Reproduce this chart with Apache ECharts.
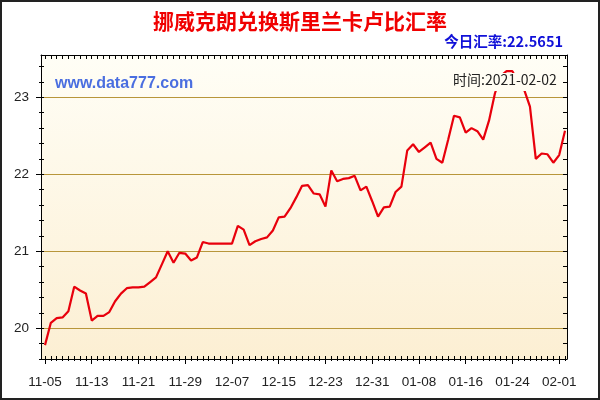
<!DOCTYPE html>
<html><head><meta charset="utf-8">
<script src="https://cdn.jsdelivr.net/npm/echarts@6/dist/echarts.min.js"></script>
<style>html,body{margin:0;padding:0;background:#fff}#c{width:600px;height:400px}</style>
</head><body><div id="c"></div>
<script>
const titleText = '挪威克朗兑换斯里兰卡卢比汇率';
const todayText = '今日汇率:22.5651';
const siteText = 'www.data777.com';
const timeText = '时间:2021-02-02';
const startYear = 2020, startMonth = 11, startDay = 5;

const rates = [
  19.78, 20.07, 20.13, 20.14, 20.22, 20.54, 20.49, 20.45, 20.10, 20.16,
  20.16, 20.21, 20.35, 20.45, 20.52, 20.53, 20.53, 20.54, 20.60, 20.66,
  20.83, 21.00, 20.85, 20.98, 20.97, 20.88, 20.92, 21.12, 21.10, 21.10,
  21.10, 21.10, 21.10, 21.33, 21.28, 21.08, 21.13, 21.16, 21.18, 21.27,
  21.44, 21.45, 21.56, 21.70, 21.85, 21.86, 21.75, 21.74, 21.58, 22.05,
  21.91, 21.94, 21.95, 21.98, 21.79, 21.84, 21.65, 21.45, 21.57, 21.58,
  21.77, 21.84, 22.31, 22.39, 22.29, 22.35, 22.41, 22.20, 22.15, 22.45,
  22.76, 22.74, 22.54, 22.60, 22.56, 22.45, 22.70, 23.05, 23.28, 23.34,
  23.34, 23.20, 23.10, 22.88, 22.20, 22.27, 22.26, 22.15, 22.25, 22.5651
];
const xTickLabels = ['11-05','11-13','11-21','11-29','12-07','12-15','12-23','12-31','01-08','01-16','01-24','02-01'];
const yTickLabels = [20, 21, 22, 23];

const dates = rates.map((_, i) => {
  const d = new Date(Date.UTC(startYear, startMonth - 1, startDay + i));
  return String(d.getUTCMonth() + 1).padStart(2, '0') + '-' + String(d.getUTCDate()).padStart(2, '0');
});
const xTickIdx = xTickLabels.map(l => dates.indexOf(l));
const dayIdx = dates.map((_, i) => i);
const yMinor = [];
for (let k = 98; k <= 117; k++) yMinor.push(+(k * 0.2).toFixed(1));

const X_MIN = -0.685, X_MAX = 89.34, Y_MIN = 19.6, Y_MAX = 23.55;
const FONT = 'Liberation Sans, Arial, sans-serif';
const CJK = '"Noto Sans CJK SC", sans-serif';
const bgGrad = { type: 'linear', x: 0, y: 55, x2: 0, y2: 359, global: true,
  colorStops: [{ offset: 0, color: '#FFFEF6' }, { offset: 1, color: '#FCEFD3' }] };

function xa(extra) {
  return Object.assign({
    type: 'value', min: X_MIN, max: X_MAX, position: 'bottom',
    axisLine: { show: false, onZero: false },
    axisTick: { show: false }, axisLabel: { show: false }, splitLine: { show: false }
  }, extra);
}
function ya(extra) {
  return Object.assign({
    type: 'value', min: Y_MIN, max: Y_MAX, position: 'left',
    axisLine: { show: false, onZero: false },
    axisTick: { show: false }, axisLabel: { show: false }, splitLine: { show: false }
  }, extra);
}

const chart = echarts.init(document.getElementById('c'), null, { renderer: 'canvas' });
chart.setOption({
  animation: false,
  backgroundColor: '#fff',
  grid: { left: 41, right: 33, top: 55, bottom: 41, containLabel: false },
  xAxis: [
    xa({
      axisLine: { show: true, onZero: false, lineStyle: { color: '#000', width: 1 } },
      axisTick: { show: true, customValues: xTickIdx, length: 5, lineStyle: { color: '#000' } },
      axisLabel: { show: true, customValues: xTickIdx, formatter: v => dates[Math.round(v)], margin: 16,
        fontSize: 13.5, color: '#222', fontFamily: FONT }
    }),
    xa({ axisTick: { show: true, customValues: dayIdx, inside: true, length: 3, lineStyle: { color: '#000' } } }),
    xa({ axisTick: { show: true, customValues: dayIdx, inside: false, length: 2, lineStyle: { color: '#000' } } }),
    xa({ position: 'top',
      axisLine: { show: true, onZero: false, lineStyle: { color: '#000', width: 1 } },
      axisTick: { show: true, customValues: dayIdx, inside: true, length: 4, lineStyle: { color: '#000' } } })
  ],
  yAxis: [
    ya({
      axisLine: { show: true, onZero: false, lineStyle: { color: '#000', width: 1 } },
      axisTick: { show: true, customValues: yTickLabels, length: 5, lineStyle: { color: '#000' } },
      axisLabel: { show: true, customValues: yTickLabels, margin: 12, fontSize: 13.5, color: '#222', fontFamily: FONT },
      splitLine: { show: true, lineStyle: { color: '#B8963A', width: 1 } }
    }),
    ya({ axisTick: { show: true, customValues: yMinor, inside: true, length: 3, lineStyle: { color: '#000' } } }),
    ya({ axisTick: { show: true, customValues: yMinor, inside: false, length: 2, lineStyle: { color: '#000' } } }),
    ya({ position: 'right',
      axisLine: { show: true, onZero: false, lineStyle: { color: '#000', width: 1 } },
      axisTick: { show: true, customValues: yMinor, inside: true, length: 4, lineStyle: { color: '#000' } } })
  ],
  series: [{
    type: 'line', xAxisIndex: 0, yAxisIndex: 0,
    data: rates.map((v, i) => [i, v]),
    showSymbol: false, symbol: 'none', smooth: false,
    lineStyle: { color: '#E8000C', width: 2.2 }, z: 5
  }],
  graphic: [
    { type: 'rect', z: -100, silent: true, shape: { x: 41, y: 55, width: 526, height: 304 }, style: { fill: bgGrad } },
    { type: 'rect', z: 100, silent: true, shape: { x: 450, y: 73, width: 112, height: 18 }, style: { fill: bgGrad } },
    { type: 'text', z: 101, left: 453, top: 73, style: { text: timeText, fill: '#222', font: '14px ' + CJK } },
    { type: 'text', z: 101, left: 55, top: 76, style: { text: siteText, fill: '#4A6EE0', font: 'bold 16px ' + FONT } },
    { type: 'text', z: 101, left: 'center', top: 11, style: { text: titleText, fill: '#F00000', font: 'bold 21px ' + CJK } },
    { type: 'text', z: 101, right: 37, top: 34, style: { text: todayText, fill: '#1010D8', font: 'bold 14.5px ' + CJK } },
    { type: 'rect', z: 200, silent: true, shape: { x: 1, y: 1, width: 598, height: 398 }, style: { fill: 'none', stroke: '#222', lineWidth: 2 } }
  ]
});
</script></body></html>
